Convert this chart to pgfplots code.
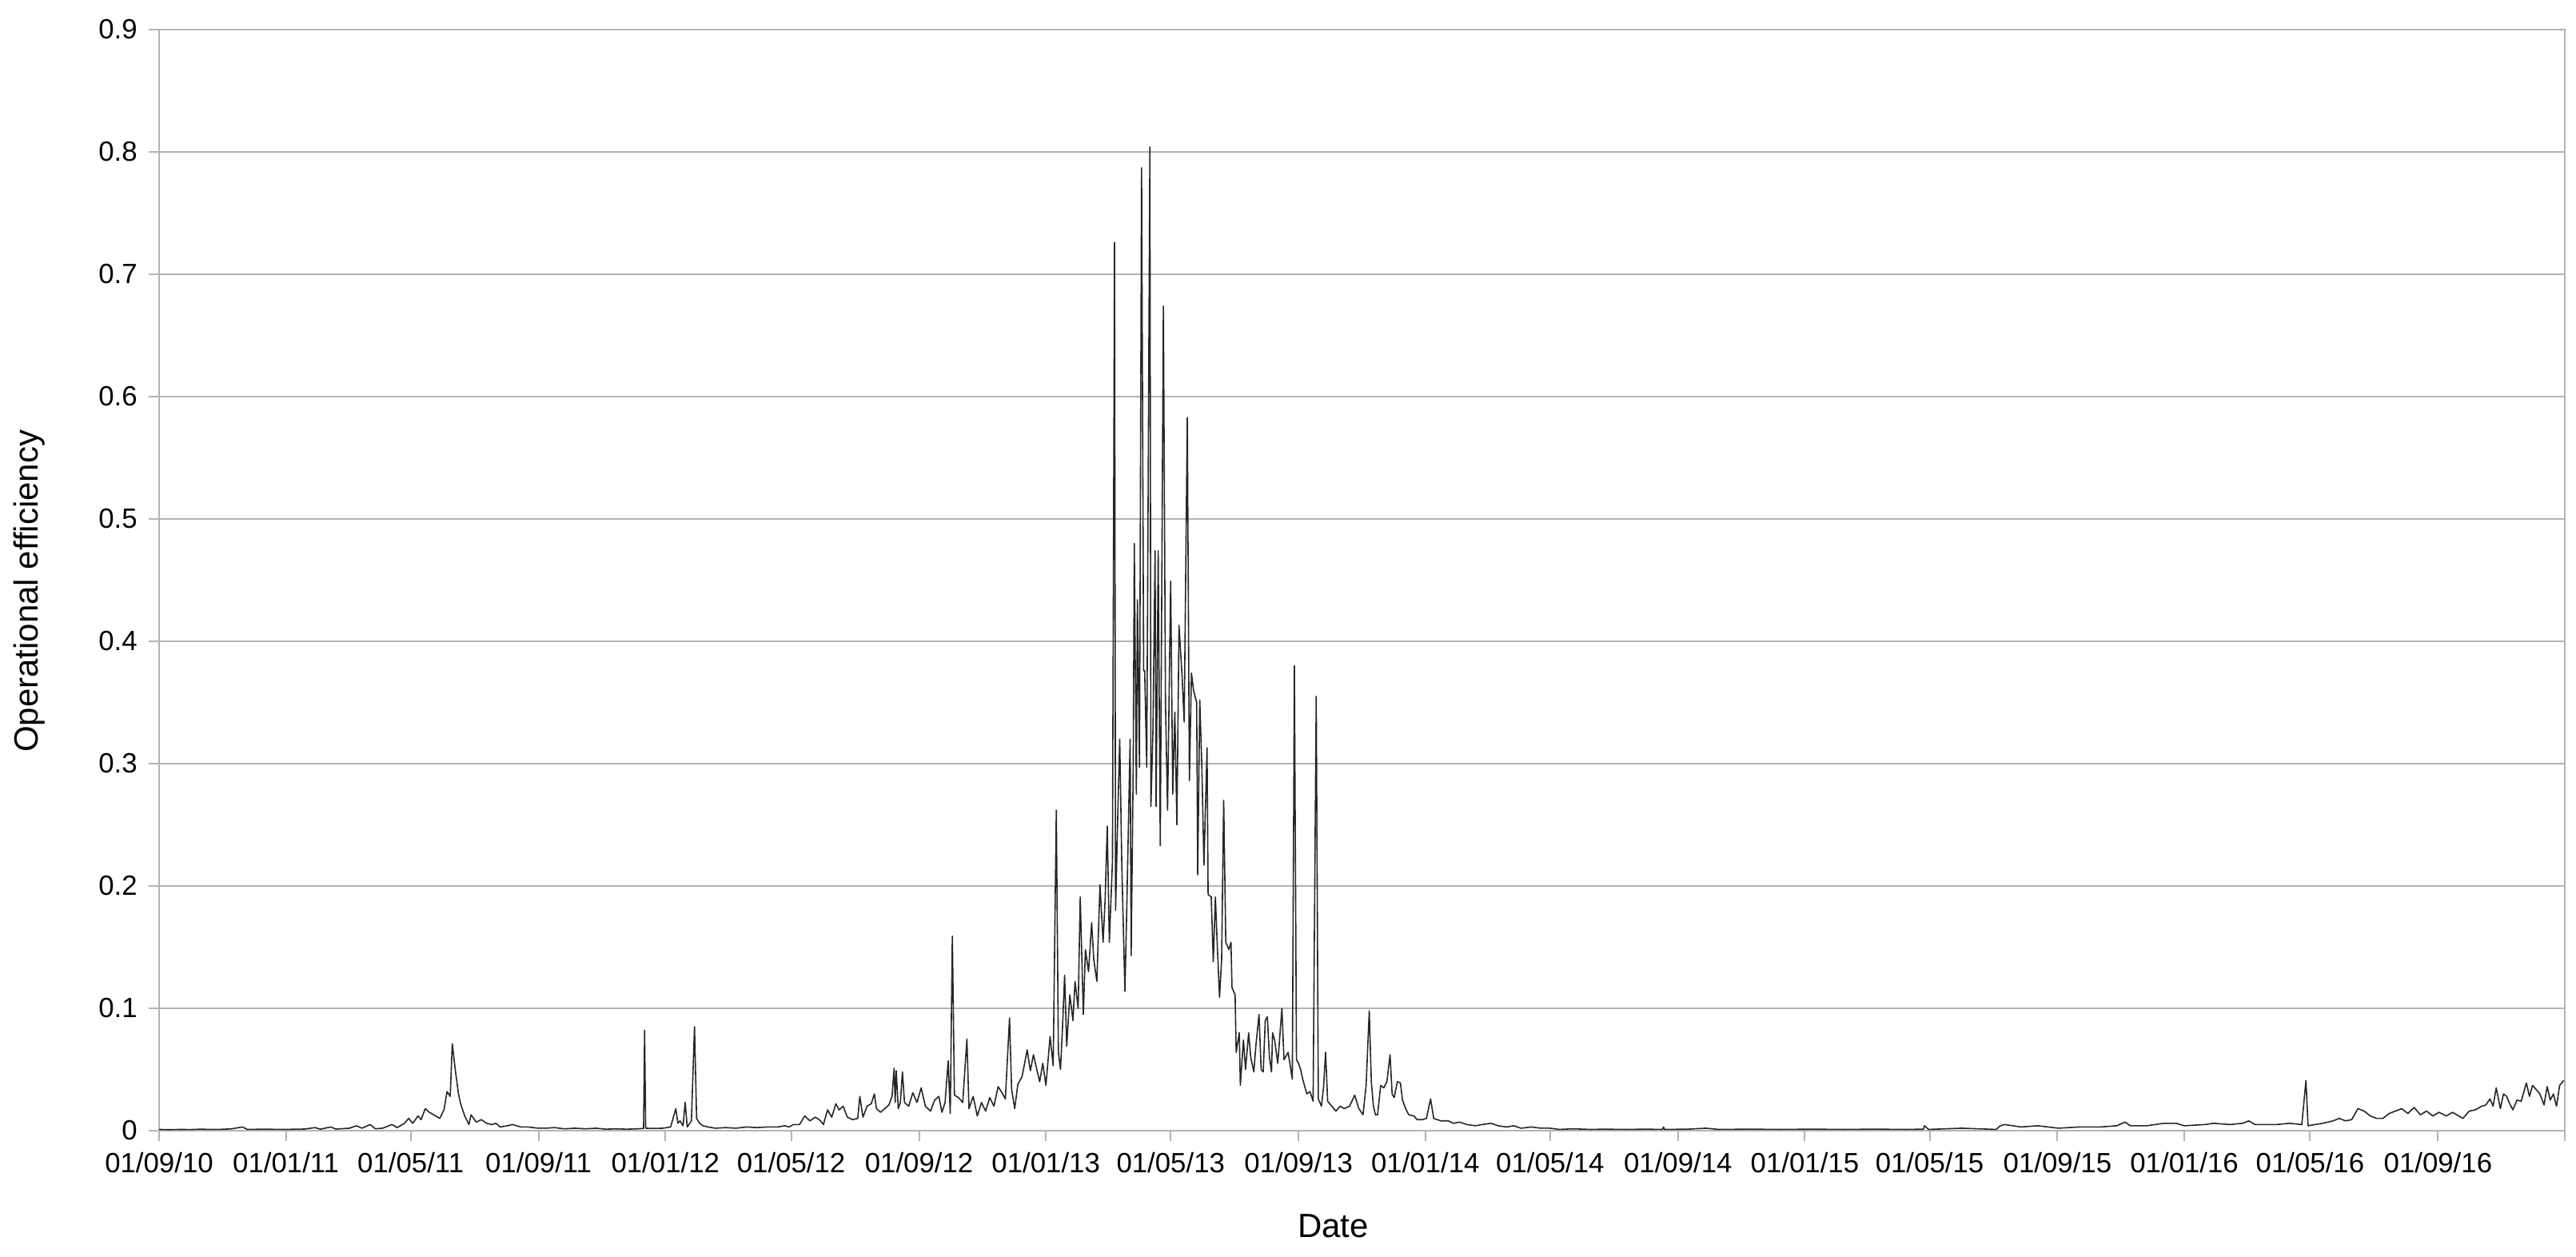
\documentclass[border=0pt]{standalone}
\usepackage{fontspec}
\setmainfont{Liberation Sans}
\usepackage{pgfplots}
\usepackage{pgfplotstable}
\pgfplotsset{compat=1.18}
\definecolor{gridgray}{HTML}{B3B3B3}

% day number counted from 01/09/10, operational efficiency
\pgfplotstableread{
x y
0 0.001
10 0.0008
20 0.001
30 0.0009
40 0.0012
50 0.001
60 0.0011
70 0.0015
80 0.003
85 0.001
100 0.0012
120 0.001
140 0.0013
150 0.0025
155 0.0012
165 0.003
170 0.0013
183 0.002
190 0.004
195 0.002
203 0.005
208 0.0015
215 0.002
224 0.005
229 0.0025
236 0.006
240 0.01
244 0.006
249 0.012
252 0.009
256 0.018
260 0.015
264 0.013
268 0.011
270 0.01
274 0.017
277 0.032
280 0.028
282 0.071
285 0.049
288 0.03
290 0.022
294 0.012
298 0.005
300 0.013
305 0.007
310 0.009
315 0.006
320 0.005
324 0.006
328 0.003
335 0.004
340 0.005
348 0.003
355 0.003
365 0.002
372 0.002
380 0.0025
390 0.0015
400 0.002
410 0.0015
420 0.002
430 0.0012
440 0.0015
450 0.0012
460 0.0015
466 0.0018
467 0.082
468 0.002
475 0.0018
485 0.002
492 0.003
497 0.018
499 0.006
501 0.008
504 0.004
506 0.023
508 0.003
512 0.008
515 0.085
517 0.01
520 0.006
523 0.004
528 0.003
535 0.002
545 0.0025
555 0.002
565 0.003
575 0.0025
585 0.003
595 0.003
602 0.004
606 0.003
610 0.005
616 0.005
621 0.012
626 0.008
631 0.011
635 0.009
639 0.005
643 0.017
647 0.011
651 0.022
654 0.017
658 0.02
662 0.011
667 0.009
672 0.01
674 0.028
677 0.011
681 0.02
685 0.022
688 0.03
690 0.018
694 0.015
698 0.018
702 0.021
705 0.028
707 0.051
708 0.023
709 0.049
711 0.018
713 0.023
715 0.048
717 0.023
721 0.02
725 0.031
729 0.023
733 0.035
737 0.02
742 0.016
746 0.025
750 0.028
753 0.015
756 0.023
759 0.057
761 0.014
763 0.159
765 0.029
769 0.027
773 0.023
777 0.075
779 0.018
783 0.028
787 0.012
791 0.023
795 0.016
799 0.027
803 0.02
807 0.036
810 0.032
814 0.026
818 0.092
820 0.034
823 0.018
826 0.038
830 0.044
835 0.066
838 0.049
841 0.062
847 0.04
850 0.055
853 0.037
857 0.077
860 0.053
863 0.262
865 0.064
867 0.05
869 0.085
871 0.127
873 0.069
876 0.111
879 0.09
881 0.122
884 0.1
886 0.191
889 0.095
891 0.148
894 0.13
897 0.17
899 0.14
902 0.122
905 0.201
908 0.154
910 0.19
912 0.249
914 0.154
917 0.22
919 0.726
920 0.18
922 0.254
924 0.32
926 0.217
929 0.114
931 0.191
934 0.32
935 0.143
937 0.3
938 0.48
940 0.275
941 0.434
943 0.297
945 0.787
947 0.376
948 0.376
950 0.297
953 0.804
954 0.265
956 0.329
958 0.474
959 0.265
961 0.474
963 0.233
966 0.674
968 0.35
970 0.262
973 0.449
975 0.275
977 0.342
979 0.25
981 0.413
984 0.371
986 0.334
989 0.583
991 0.286
993 0.374
995 0.36
998 0.35
999 0.209
1001 0.352
1003 0.297
1005 0.217
1008 0.313
1009 0.193
1012 0.191
1014 0.138
1016 0.191
1018 0.148
1020 0.109
1022 0.14
1024 0.27
1026 0.154
1029 0.148
1031 0.154
1032 0.117
1035 0.111
1036 0.064
1039 0.08
1040 0.037
1043 0.074
1045 0.05
1048 0.08
1050 0.06
1053 0.048
1055 0.07
1058 0.095
1060 0.05
1062 0.048
1064 0.09
1066 0.093
1068 0.06
1070 0.048
1071 0.08
1073 0.074
1076 0.055
1080 0.1
1082 0.058
1086 0.064
1090 0.042
1092 0.38
1094 0.058
1096 0.055
1098 0.05
1100 0.042
1104 0.03
1107 0.032
1110 0.024
1113 0.355
1115 0.026
1118 0.02
1120 0.035
1122 0.064
1124 0.024
1128 0.02
1132 0.016
1136 0.02
1140 0.018
1145 0.02
1150 0.029
1154 0.018
1158 0.013
1161 0.037
1164 0.098
1166 0.04
1168 0.02
1170 0.013
1172 0.013
1175 0.037
1178 0.035
1181 0.04
1184 0.062
1186 0.03
1188 0.027
1191 0.04
1194 0.039
1196 0.025
1199 0.018
1202 0.013
1207 0.012
1210 0.009
1215 0.009
1219 0.01
1223 0.026
1226 0.01
1233 0.008
1240 0.008
1245 0.006
1251 0.007
1258 0.005
1266 0.004
1273 0.005
1281 0.006
1288 0.004
1296 0.003
1303 0.004
1310 0.002
1320 0.003
1329 0.002
1338 0.002
1347 0.001
1360 0.0015
1377 0.001
1390 0.0012
1410 0.001
1430 0.0012
1446 0.001
1447 0.003
1448 0.001
1470 0.0012
1488 0.002
1500 0.001
1530 0.0012
1560 0.001
1590 0.0012
1620 0.001
1650 0.0012
1680 0.001
1697 0.0012
1698 0.004
1702 0.001
1734 0.002
1767 0.001
1771 0.004
1775 0.005
1791 0.003
1807 0.004
1827 0.002
1847 0.003
1867 0.003
1883 0.004
1891 0.007
1896 0.004
1912 0.004
1928 0.006
1940 0.006
1948 0.004
1968 0.005
1976 0.006
1992 0.005
2004 0.006
2010 0.008
2016 0.005
2037 0.005
2049 0.006
2061 0.005
2065 0.041
2067 0.004
2081 0.006
2091 0.008
2097 0.01
2103 0.008
2109 0.009
2115 0.018
2121 0.016
2127 0.012
2133 0.01
2139 0.01
2145 0.014
2151 0.016
2157 0.018
2163 0.014
2169 0.019
2175 0.013
2181 0.016
2187 0.012
2193 0.015
2200 0.012
2206 0.015
2212 0.012
2216 0.01
2222 0.016
2228 0.017
2234 0.02
2238 0.021
2242 0.026
2245 0.02
2248 0.035
2252 0.018
2255 0.03
2258 0.028
2261 0.022
2264 0.017
2268 0.025
2272 0.024
2277 0.039
2280 0.028
2283 0.037
2286 0.034
2290 0.03
2294 0.021
2297 0.036
2300 0.025
2303 0.03
2306 0.02
2309 0.037
2313 0.041
}\efficiency

\begin{document}
\begin{tikzpicture}
\useasboundingbox (-49.75pt,-39.5pt) rectangle (755.75pt,353.5pt);
\begin{axis}[
    scale only axis,
    width=752.25pt, height=344.25pt,
    xmin=0, xmax=2314, ymin=0, ymax=0.9,
    xtick={0,122,242,365,487,608,731,853,973,1096,1218,1338,1461,1583,1703,1826,1948,2069,2192,2314},
    xticklabels={01/09/10,01/01/11,01/05/11,01/09/11,01/01/12,01/05/12,01/09/12,01/01/13,01/05/13,01/09/13,01/01/14,01/05/14,01/09/14,01/01/15,01/05/15,01/09/15,01/01/16,01/05/16,01/09/16,{}},
    ytick={0,0.1,0.2,0.3,0.4,0.5,0.6,0.7,0.8,0.9},
    yticklabel style={/pgf/number format/.cd, fixed, precision=1},
    /pgf/number format/assume math mode=true,
    ymajorgrids,
    grid style={gridgray, line width=0.5pt},
    axis line style={gridgray, line width=0.5pt},
    tick style={gridgray, line width=0.5pt},
    tick align=outside,
    major tick length=3.3pt,
    xtick pos=bottom, ytick pos=left,
    ticklabel style={font=\fontsize{8.7}{10}\selectfont, text=black},
    label style={font=\fontsize{10.5}{12}\selectfont},
    xlabel={Date},
    ylabel={Operational efficiency},
    xlabel style={at={(axis description cs:0.488,-0.0864)}, anchor=center},
    ylabel style={at={(axis description cs:-0.0538,0.49)}, anchor=center},
]
\addplot[black!85, line width=0.4pt, line join=round, mark=none] table[x=x, y=y] {\efficiency};
\end{axis}
\end{tikzpicture}
\end{document}
